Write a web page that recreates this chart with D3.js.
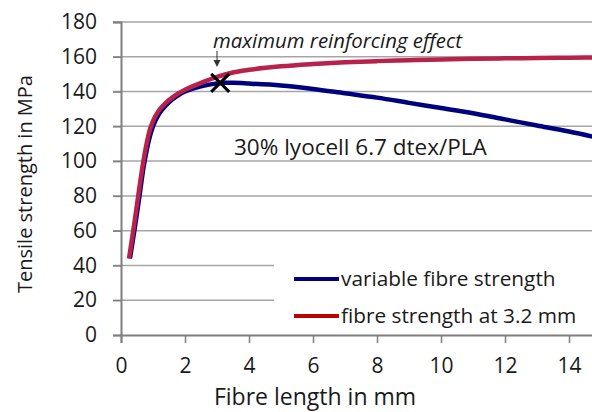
<!DOCTYPE html>
<html>
<head>
<meta charset="utf-8">
<title>Tensile strength vs fibre length</title>
<script src="https://cdn.jsdelivr.net/npm/d3@7"></script>
<style>
body { margin: 0; background: #fff; }
svg text { font-family: "Open Sans", Lato, sans-serif; fill: #1a1a1a; }
.grid line { stroke: #a6a6a6; stroke-width: 1.5; }
</style>
</head>
<body>
<svg id="chart" width="592" height="412"></svg>
<script>
// fibre length in mm
var lenRed  = [0.25, 0.4, 0.5, 0.6, 0.7, 0.8, 0.9, 1.0, 1.2, 1.4, 1.6, 1.8, 2.0, 2.5, 3.0, 3.5, 4, 5, 6, 7, 8, 9, 10, 11, 12, 13, 14, 15];
var fixedStrength = [44, 62, 75, 88, 100, 110, 118, 123, 129.5, 133.5, 136.5, 139, 141, 145, 148.5, 151, 152.5, 154.5, 155.8, 156.8, 157.5, 158, 158.5, 158.8, 159.1, 159.3, 159.5, 159.6];

var lenBlue = [0.28, 0.4, 0.5, 0.6, 0.7, 0.8, 0.9, 1.0, 1.2, 1.4, 1.6, 1.8, 2.0, 2.5, 3.0, 3.2, 3.5, 4, 5, 6, 7, 8, 9, 10, 11, 12, 13, 14, 15];
var variableStrength = [44, 58, 70, 83, 96, 106, 114, 120, 127.5, 132, 135.5, 138, 140, 143, 144.7, 145, 145, 144.6, 143.5, 141.5, 139, 136.5, 133.5, 130.5, 127.5, 124, 120.5, 117, 113];

var xTicks = [0, 2, 4, 6, 8, 10, 12, 14];
var yTicks = [0, 20, 40, 60, 80, 100, 120, 140, 160, 180];
var maxPoint = [3.1, 145];

var svg = d3.select("#chart");
var x = d3.scaleLinear().domain([0, 15]).range([121, 601]);
var y = d3.scaleLinear().domain([0, 180]).range([335, 22]);

// gridlines
svg.append("g").attr("class", "grid")
  .selectAll("line").data(yTicks.slice(1)).enter().append("line")
  .attr("x1", 113).attr("x2", 600)
  .attr("y1", function(d) { return y(d); })
  .attr("y2", function(d) { return y(d); });

// y axis
var yAxis = svg.append("g")
  .attr("transform", "translate(121,0)")
  .call(d3.axisLeft(y).tickValues(yTicks).tickSize(8).tickPadding(16));
yAxis.select(".domain").attr("stroke", "#7f7f7f").attr("stroke-width", 2);
yAxis.selectAll(".tick line").attr("stroke", "#7f7f7f").attr("stroke-width", 1.5);
yAxis.selectAll("text").style("font-size", "21px").attr("fill", "#1a1a1a");

// x axis
var xAxis = svg.append("g")
  .attr("transform", "translate(0,335)")
  .call(d3.axisBottom(x).tickValues(xTicks).tickSize(8).tickPadding(15));
xAxis.select(".domain").attr("stroke", "#7f7f7f").attr("stroke-width", 2);
xAxis.selectAll(".tick line").attr("stroke", "#7f7f7f").attr("stroke-width", 1.5);
xAxis.selectAll("text").style("font-size", "21px").attr("fill", "#1a1a1a");

// legend background (covers gridlines)
svg.append("rect")
  .attr("x", 274).attr("y", 263).attr("width", 330).attr("height", 71)
  .attr("fill", "#fff");

var line = d3.line().curve(d3.curveMonotoneX)
  .x(function(d) { return x(d[0]); })
  .y(function(d) { return y(d[1]); });

var blueData = d3.zip(lenBlue, variableStrength);
var redData = d3.zip(lenRed, fixedStrength);

svg.append("path").datum(blueData)
  .attr("d", line).attr("fill", "none")
  .attr("stroke", "#00007f").attr("stroke-width", 4.5);

svg.append("path").datum(redData)
  .attr("d", line).attr("fill", "none")
  .attr("stroke", "#b7214b").attr("stroke-width", 4.5);

// X marker at maximum
var mx = x(maxPoint[0]), my = y(maxPoint[1]);
svg.append("path")
  .attr("d", "M" + (mx - 9) + "," + (my - 9) + "L" + (mx + 9) + "," + (my + 9) +
             "M" + (mx + 9) + "," + (my - 9) + "L" + (mx - 9) + "," + (my + 9))
  .attr("stroke", "#000").attr("stroke-width", 3);

// annotation arrow
svg.append("line")
  .attr("x1", 217).attr("x2", 217).attr("y1", 51).attr("y2", 62)
  .attr("stroke", "#333").attr("stroke-width", 1);
svg.append("path")
  .attr("d", "M213.5,60 L217,67 L220.5,60 Z")
  .attr("fill", "#333");

svg.append("text")
  .attr("x", 213).attr("y", 48)
  .style("font-size", "20.4px").style("font-style", "italic")
  .text("maximum reinforcing effect");

svg.append("text")
  .attr("x", 234).attr("y", 155)
  .style("font-size", "22.5px")
  .text("30% lyocell 6.7 dtex/PLA");

// legend
var legendItems = [["variable fibre strength", "#00007f"], ["fibre strength at 3.2 mm", "#c00000"]];
var lg = svg.selectAll(".legend").data(legendItems).enter().append("g")
  .attr("class", "legend")
  .attr("transform", function(d, i) { return "translate(294," + (279 + i * 37) + ")"; });
lg.append("line").attr("x1", 0).attr("x2", 45).attr("y1", 0).attr("y2", 0)
  .attr("stroke", function(d) { return d[1]; }).attr("stroke-width", 4);
lg.append("text").attr("x", 47).attr("y", 0).attr("dy", "0.35em")
  .style("font-size", "20.8px")
  .text(function(d) { return d[0]; });

// axis titles
svg.append("text")
  .attr("transform", "translate(32,184) rotate(-90)")
  .attr("text-anchor", "middle")
  .style("font-size", "20px")
  .text("Tensile strength in MPa");

svg.append("text")
  .attr("x", 315).attr("y", 405)
  .attr("text-anchor", "middle")
  .style("font-size", "23px")
  .text("Fibre length in mm");
</script>
</body>
</html>
